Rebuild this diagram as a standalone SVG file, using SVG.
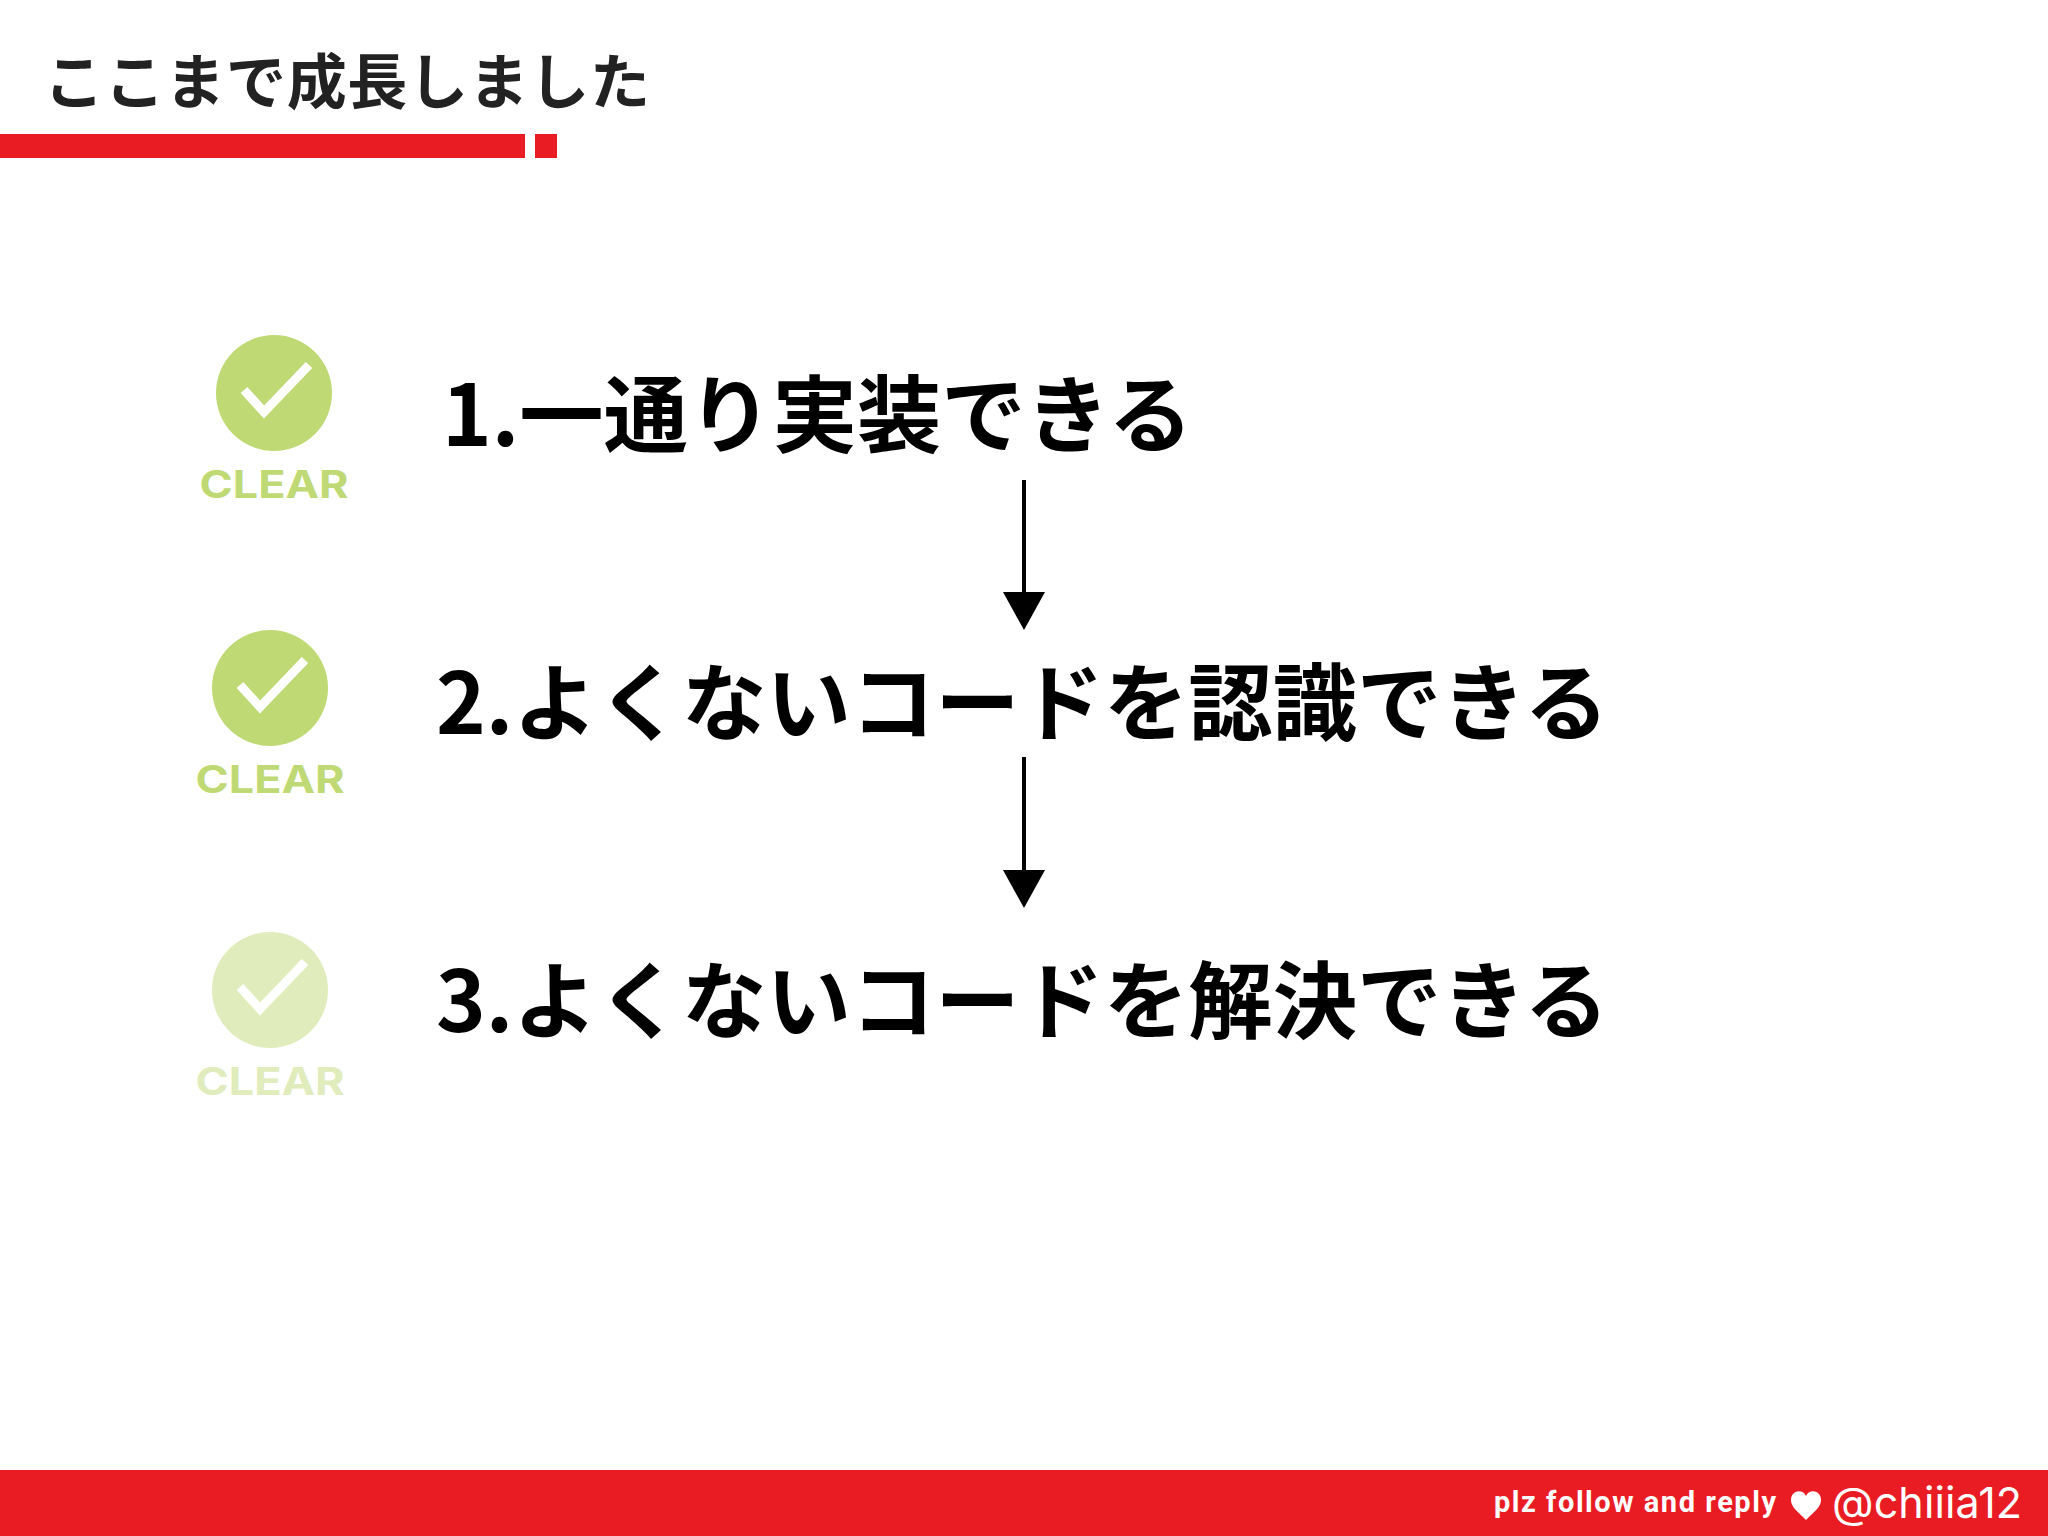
<svg xmlns="http://www.w3.org/2000/svg" width="2048" height="1536" viewBox="0 0 2048 1536">
<style>
.jp{font-family:"Noto Sans CJK JP","Noto Sans",sans-serif}
.title{font-size:60px;font-weight:700;fill:#222}
.item{font-size:84.4px;font-weight:700;fill:#000}
.clear{font-family:"Inter","Noto Sans",sans-serif;font-weight:700;font-size:38px;text-anchor:middle}
.red{fill:#e91c24}
.check{fill:none;stroke:#fff;stroke-width:9}
.conn{stroke:#000;stroke-width:4;fill:none}
</style>
<defs>
<g id="badge">
<circle cx="0" cy="0" r="58"/>
<path class="check" d="M-30-3L-10 19L35-28"/>
<text class="clear" x="0" y="105" textLength="149" lengthAdjust="spacingAndGlyphs">CLEAR</text>
</g>
</defs>
<rect width="2048" height="1536" fill="#fff"/>
<g id="header">
<text class="jp title" x="44" y="104" textLength="606">ここまで成長しました</text>
<rect class="red" x="0" y="134" width="525" height="24"/>
<rect class="red" x="535" y="134" width="22" height="24"/>
</g>
<g id="step1">
<use href="#badge" x="274" y="393" fill="#bfd975"/>
<text class="jp item" x="442" y="446">1.一通り実装できる</text>
</g>
<g id="step2">
<use href="#badge" x="270" y="688" fill="#bfd975"/>
<text class="jp item" x="436" y="734">2.よくないコードを認識できる</text>
</g>
<g id="step3">
<use href="#badge" x="270" y="990" fill="#e0ecbb"/>
<text class="jp item" x="436" y="1032">3.よくないコードを解決できる</text>
</g>
<g id="connectors">
<path class="conn" d="M1024 480V596"/>
<path d="M1003 592H1045L1024 630Z"/>
<path class="conn" d="M1024 757V874"/>
<path d="M1003 870H1045L1024 908Z"/>
</g>
<g id="footer">
<rect class="red" x="0" y="1470" width="2048" height="66"/>
<text x="1494" y="1512" font-family="Roboto,sans-serif" font-weight="700" font-size="29" fill="#fff" textLength="282">plz follow and reply</text>
<path d="M1806 1520C1797 1511 1791 1507 1791 1500C1791 1491 1802 1488 1806 1496C1810 1488 1821 1491 1821 1500C1821 1507 1815 1511 1806 1520Z" fill="#fff"/>
<text x="1832" y="1518" font-family="Inter,sans-serif" font-weight="400" font-size="43" fill="#fff" textLength="190">@chiiia12</text>
</g>
</svg>
